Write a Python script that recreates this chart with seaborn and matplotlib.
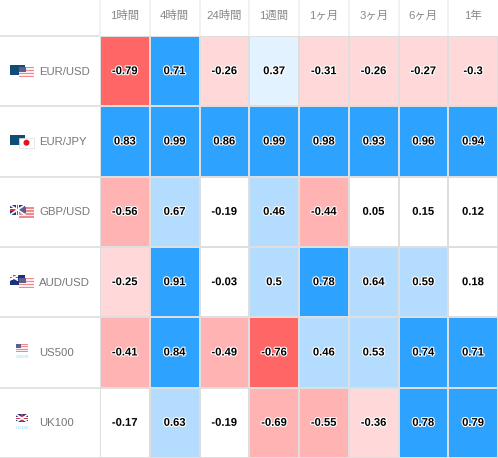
import numpy as np
import pandas as pd
import matplotlib
matplotlib.use("Agg")
import matplotlib.pyplot as plt
import matplotlib.patheffects as pe
from matplotlib.colors import ListedColormap, BoundaryNorm
from matplotlib.patches import Rectangle, Circle
import seaborn as sns

periods = ["1時間", "4時間", "24時間", "1週間", "1ヶ月", "3ヶ月", "6ヶ月", "1年"]
symbols = ["EUR/USD", "EUR/JPY", "GBP/USD", "AUD/USD", "US500", "UK100"]
eur_usd = [-0.79, 0.71, -0.26, 0.37, -0.31, -0.26, -0.27, -0.3]
eur_jpy = [0.83, 0.99, 0.86, 0.99, 0.98, 0.93, 0.96, 0.94]
gbp_usd = [-0.56, 0.67, -0.19, 0.46, -0.44, 0.05, 0.15, 0.12]
aud_usd = [-0.25, 0.91, -0.03, 0.5, 0.78, 0.64, 0.59, 0.18]
us500 = [-0.41, 0.84, -0.49, -0.76, 0.46, 0.53, 0.74, 0.71]
uk100 = [-0.17, 0.63, -0.19, -0.69, -0.55, -0.36, 0.78, 0.79]
bin_edges = [-1.01, -0.7, -0.4, -0.2, 0.2, 0.4, 0.7, 1.01]
bin_colors = ["#FF6666", "#FFB3B3", "#FFD9D9", "#FFFFFF", "#E3F2FF", "#B3DCFF", "#2EA2FF"]

W, H = 498, 458
df = pd.DataFrame([eur_usd, eur_jpy, gbp_usd, aud_usd, us500, uk100], index=symbols, columns=periods)

sns.set_theme(style="white")
plt.rcParams["font.family"] = ["Liberation Sans", "Noto Sans CJK JP", "DejaVu Sans"]
fig = plt.figure(figsize=(W / 100, H / 100), dpi=100, facecolor="white")

# overlay in pixel coordinates for header/row furniture
bg = fig.add_axes([0, 0, 1, 1], zorder=0)
bg.set_xlim(0, W); bg.set_ylim(H, 0); bg.axis("off")

ax = fig.add_axes([100 / W, 0, (W - 100) / W, (H - 36) / H], zorder=1)
cmap = ListedColormap(bin_colors)
norm = BoundaryNorm(bin_edges, cmap.N)
sns.heatmap(df, ax=ax, cmap=cmap, norm=norm, cbar=False, annot=True, fmt="g",
            linewidths=1.4, linecolor="#DEDEDE",
            annot_kws={"fontsize": 8.1, "fontweight": "bold", "color": "black",
                       "path_effects": [pe.withStroke(linewidth=1.6, foreground="white")]})
ax.set_xlabel(""); ax.set_ylabel("")
ax.xaxis.tick_top()
ax.set_xticks(np.arange(len(periods)) + 0.5, labels=periods)
ax.tick_params(axis="x", length=0, pad=11, labelsize=8.2, labelcolor="#888888", rotation=0)
ax.set_yticks([])

row_h = (H - 36) / len(symbols)
col_w = (W - 100) / len(periods)
for i in range(len(symbols) + 1):
    bg.plot([0, 100], [36 + i * row_h] * 2, color="#DEDEDE", lw=1.2, solid_capstyle="butt")
for j in range(len(periods)):
    bg.plot([100 + j * col_w] * 2, [0, 36], color="#EFEFEF", lw=1.2)


def us(x, y, w=15, h=10.5):
    for k in range(7):
        bg.add_patch(Rectangle((x, y + k * h / 7), w, h / 7, fc="#EE8A8F" if k % 2 == 0 else "#FBEDEE", lw=0))
    bg.add_patch(Rectangle((x, y), w * 0.45, h * 0.55, fc="#5A5F8E", lw=0))


def eu(x, y):
    bg.add_patch(Rectangle((x, y), 15, 10, fc="#0F4C78", lw=0))


def jp(x, y):
    bg.add_patch(Rectangle((x, y), 15, 10.5, fc="white", ec="#DDDDDD", lw=0.5))
    bg.add_patch(Circle((x + 7.5, y + 5.2), 3, fc="#E8101C", lw=0))


def uk(x, y, w=15, h=10):
    bg.add_patch(Rectangle((x, y), w, h, fc="#2A3A7A", lw=0))
    bg.plot([x, x + w], [y, y + h], color="white", lw=1.2)
    bg.plot([x, x + w], [y + h, y], color="white", lw=1.2)
    bg.add_patch(Rectangle((x + w / 2 - 1.4, y), 2.8, h, fc="white", lw=0))
    bg.add_patch(Rectangle((x, y + h / 2 - 1.4), w, 2.8, fc="white", lw=0))
    bg.add_patch(Rectangle((x + w / 2 - 0.8, y), 1.6, h, fc="#D0344A", lw=0))
    bg.add_patch(Rectangle((x, y + h / 2 - 0.8), w, 1.6, fc="#D0344A", lw=0))


def au(x, y):
    bg.add_patch(Rectangle((x, y), 15, 10, fc="#1C2F80", lw=0))
    uk(x, y, 7.5, 5)


label_x = 39
for i, name in enumerate(symbols):
    cy = 36 + (i + 0.5) * row_h
    bg.text(label_x, cy + 0.5, name, fontsize=8.2, color="#777777", va="center", ha="left")
    if name == "EUR/USD":
        eu(10, cy - 6.5); us(19, cy - 4.5)
    elif name == "EUR/JPY":
        eu(10, cy - 7); jp(19, cy - 4)
    elif name == "GBP/USD":
        uk(10, cy - 7); us(19, cy - 4.5)
    elif name == "AUD/USD":
        au(10, cy - 7); us(19, cy - 4.5)
    elif name == "US500":
        us(16, cy - 8.5, 12, 8)
        bg.text(22, cy + 5, "US500", fontsize=3.2, color="#8FD8F5", ha="center", va="center")
    elif name == "UK100":
        uk(16, cy - 8.5, 12, 8)
        bg.text(22, cy + 5, "UK100", fontsize=3.2, color="#8FD8F5", ha="center", va="center")

fig.savefig("out.png", dpi=100, facecolor="white")
